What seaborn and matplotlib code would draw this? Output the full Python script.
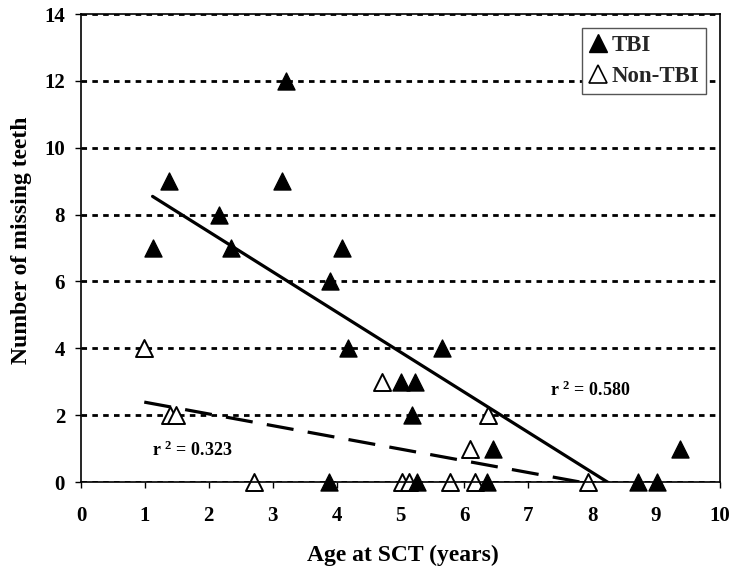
import matplotlib
matplotlib.use("Agg")
import matplotlib.pyplot as plt
import seaborn as sns
import pandas as pd
import numpy as np
from matplotlib.lines import Line2D

# ---- data ----
tbi_age = [1.12, 1.38, 2.16, 2.34, 3.14, 3.21, 3.89, 4.08, 4.18, 3.88,
           5.00, 5.22, 5.18, 5.65, 5.26, 6.45, 6.36, 8.71, 9.02, 9.38]
tbi_teeth = [7, 9, 8, 7, 9, 12, 6, 7, 4, 0,
             3, 3, 2, 4, 0, 1, 0, 0, 0, 1]
non_age = [0.99, 1.39, 1.49, 4.71, 6.37, 6.09, 2.70, 5.03, 5.13, 5.77, 6.16, 7.93]
non_teeth = [4, 2, 2, 3, 2, 1, 0, 0, 0, 0, 0, 0]
groups = ["TBI", "Non-TBI"]
r2_labels = ["0.580", "0.323"]
x_ticks = list(range(0, 11))
y_ticks = list(range(0, 15, 2))

df_tbi = pd.DataFrame({"age": tbi_age, "teeth": tbi_teeth})
df_non = pd.DataFrame({"age": non_age, "teeth": non_teeth})

sns.set_theme(style="white")
plt.rcParams["font.family"] = ["Liberation Serif", "DejaVu Serif"]
plt.rcParams["font.weight"] = "bold"
plt.rcParams["mathtext.fontset"] = "custom"
plt.rcParams["mathtext.rm"] = "Liberation Serif:bold"
plt.rcParams["mathtext.bf"] = "Liberation Serif:bold"
plt.rcParams["mathtext.it"] = "Liberation Serif:bold"

fig = plt.figure(figsize=(7.33, 5.70), dpi=100)
ax = fig.add_axes([81 / 733, 88 / 570, 639 / 733, 468 / 570])

# gridlines
ax.yaxis.grid(True, color="black", linewidth=2.0, linestyle=(0, (2.0, 1.9)))
ax.set_axisbelow(True)

# points
sns.scatterplot(data=df_non, x="age", y="teeth", marker="^", s=150,
                color="white", edgecolor="black", linewidth=1.4,
                clip_on=False, zorder=3, ax=ax, legend=False)
sns.scatterplot(data=df_tbi, x="age", y="teeth", marker="^", s=150,
                color="black", edgecolor="black", linewidth=1.0,
                clip_on=False, zorder=4, ax=ax, legend=False)

# regression lines
sns.regplot(data=df_tbi, x="age", y="teeth", scatter=False, ci=None,
            truncate=True, color="black",
            line_kws=dict(linewidth=2.3, zorder=5), ax=ax)
sns.regplot(data=df_non, x="age", y="teeth", scatter=False, ci=None,
            truncate=True, color="black",
            line_kws=dict(linewidth=2.3, linestyle=(0, (8.5, 4.5)), zorder=5), ax=ax)

ax.set_xlim(0, 10)
ax.set_ylim(0, 14)
ax.set_xticks(x_ticks)
ax.set_yticks(y_ticks)
ax.tick_params(axis="both", direction="out", length=4.5, width=1.0,
               color="black", labelsize=15, labelcolor="black")
ax.tick_params(axis="x", pad=13)
ax.tick_params(axis="y", pad=7)
ax.tick_params(bottom=True, left=True)

for sp in ax.spines.values():
    sp.set_visible(True)
    sp.set_color("black")
    sp.set_linewidth(1.2)
    sp.set_zorder(6)

ax.set_xlabel("Age at SCT (years)", fontsize=17, fontweight="bold", color="black")
ax.set_ylabel("Number of missing teeth", fontsize=17, fontweight="bold", color="black")
ax.xaxis.set_label_coords(0.503, -0.135)
ax.yaxis.set_label_coords(-0.077, 0.517)

# r^2 annotations
ax.text(7.34, 2.75, r"r $^{2}$ = " + r2_labels[0], fontsize=13, fontweight="bold",
        ha="left", va="center", color="black")
ax.text(1.11, 0.96, r"r $^{2}$ = " + r2_labels[1], fontsize=13, fontweight="bold",
        ha="left", va="center", color="black")

# legend
handles = [
    Line2D([], [], marker="^", linestyle="none", markersize=12.5,
           markerfacecolor="black", markeredgecolor="black", markeredgewidth=1.0),
    Line2D([], [], marker="^", linestyle="none", markersize=12.5,
           markerfacecolor="white", markeredgecolor="black", markeredgewidth=1.2),
]
leg = ax.legend(handles, groups, loc="upper right", bbox_to_anchor=(0.978, 0.970),
                borderaxespad=0, frameon=True, fancybox=False, framealpha=1,
                edgecolor="#555555", fontsize=16.5, handlelength=0.8,
                handletextpad=0.2, borderpad=0.3, labelspacing=0.45)
leg.get_frame().set_linewidth(1.0)
leg.set_zorder(7)

fig.savefig("out.png", dpi=100, facecolor="white")
